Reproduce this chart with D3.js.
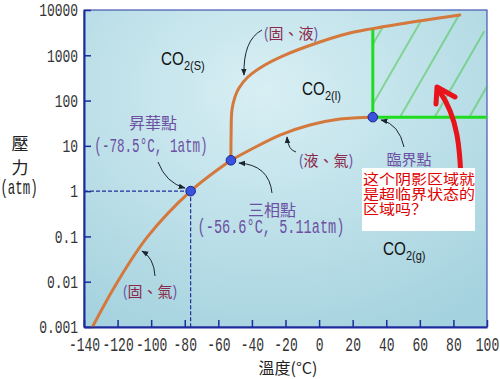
<!DOCTYPE html>
<meta charset="utf-8">
<style>
body { margin: 0; background: #fff; }
svg { display: block; }
.cjk { font-family: "Noto Sans CJK TC", "Noto Sans CJK SC", sans-serif; }
.mono { font-family: "Liberation Mono", "DejaVu Sans Mono", monospace; }
.sans { font-family: "Liberation Sans", Arial, sans-serif; }
</style>
<svg width="500" height="379"></svg>
<script src="https://d3js.org/d3.v7.min.js"></script>
<script>

// temperature (°C) and pressure (atm) ticks
var tempTicks = [-140, -120, -100, -80, -60, -40, -20, 0, 20, 40, 60, 80, 100];
var pressTicks = [0.001, 0.01, 0.1, 1, 10, 100, 1000, 10000];
var pressLabels = ["0.001", "0.01", "0.1", "1", "10", "100", "1000", "10000"];

// phase boundaries: [T, P]
var solidGas = [[-135, 0.001], [-120, 0.01], [-102, 0.1], [-76.5, 1], [-52.5, 4.8]];
var liquidGas = [[-52.5, 4.8], [-41.2, 8.1], [-23.3, 17.3], [-5.5, 28.8], [12.4, 39.2], [32, 43]];
var solidLiquid = [[-52.5, 4.8], [-52.4, 17.3], [-51.9, 62], [-50.1, 120], [-47.7, 189], [-42.4, 331],
                   [-32.3, 610], [-20.4, 1010], [-1.3, 1870], [18.3, 3100], [48.1, 4900], [83.8, 7740]];

// special points
var sublimationPt = [-76.5, 1];
var triplePt = [-52.5, 4.8];
var criticalPt = [32, 43];

var svg = d3.select("svg");

var x = d3.scaleLinear().domain([-140, 100]).range([84, 487]);
var y = d3.scaleLog().domain([0.001, 10000]).range([327, 10]);

var line = d3.line()
    .x(function(d) { return x(d[0]); })
    .y(function(d) { return y(d[1]); })
    .curve(d3.curveCatmullRom.alpha(0.5));

var defs = svg.append("defs");

var bg = defs.append("radialGradient").attr("id", "bg")
    .attr("cx", "45%").attr("cy", "25%").attr("r", "85%");
bg.append("stop").attr("offset", "0%").attr("stop-color", "#d8eff4");
bg.append("stop").attr("offset", "100%").attr("stop-color", "#a4d2de");

var hatch = defs.append("pattern").attr("id", "hatch")
    .attr("patternUnits", "userSpaceOnUse")
    .attr("width", 30).attr("height", 20)
    .attr("patternTransform", "rotate(30)");
hatch.append("line").attr("x1", 15).attr("x2", 15).attr("y1", 0).attr("y2", 20)
    .attr("stroke", "#3cc43c").attr("stroke-width", 1);

defs.append("marker").attr("id", "tip")
    .attr("viewBox", "0 0 10 10").attr("refX", 9).attr("refY", 5)
    .attr("markerWidth", 7).attr("markerHeight", 7)
    .attr("orient", "auto")
  .append("path").attr("d", "M0,1 L10,5 L0,9 Z").attr("fill", "#1a2530");

// plot background + frame
svg.append("rect")
    .attr("x", x(-140)).attr("y", y(10000))
    .attr("width", x(100) - x(-140)).attr("height", y(0.001) - y(10000))
    .attr("fill", "url(#bg)")
    .attr("stroke", "#2636a6").attr("stroke-width", 1);

// supercritical region: above the critical point, right of it, below the melting curve
function logInterp(data, t) {
  for (var i = 1; i < data.length; i++) {
    if (data[i][0] >= t) {
      var a = data[i - 1], b = data[i], f = (t - a[0]) / (b[0] - a[0]);
      return Math.pow(10, Math.log10(a[1]) + f * (Math.log10(b[1]) - Math.log10(a[1])));
    }
  }
  return data[data.length - 1][1];
}
var topAtCrit = logInterp(solidLiquid, criticalPt[0]);
var upper = [[criticalPt[0], topAtCrit]].concat(solidLiquid.filter(function(d) { return d[0] > criticalPt[0]; }));
var last = upper[upper.length - 1];
var regionPath = line(upper) +
    "L" + x(100) + "," + (y(last[1]) + 18) +
    "L" + x(100) + "," + y(criticalPt[1]) +
    "L" + x(criticalPt[0]) + "," + y(criticalPt[1]) + "Z";

svg.append("path").attr("d", regionPath).attr("fill", "url(#hatch)");

svg.append("line")
    .attr("x1", x(criticalPt[0])).attr("x2", x(criticalPt[0]))
    .attr("y1", y(criticalPt[1])).attr("y2", y(topAtCrit))
    .attr("stroke", "#1fdc1f").attr("stroke-width", 3);
svg.append("line")
    .attr("x1", x(criticalPt[0])).attr("x2", x(100))
    .attr("y1", y(criticalPt[1])).attr("y2", y(criticalPt[1]))
    .attr("stroke", "#1fdc1f").attr("stroke-width", 3);

// phase curves
[solidGas, liquidGas, solidLiquid].forEach(function(c) {
  svg.append("path").attr("d", line(c))
      .attr("fill", "none").attr("stroke", "#d4783c")
      .attr("stroke-width", 3).attr("stroke-linecap", "round");
});

// dashed guides to the sublimation point
svg.append("line")
    .attr("x1", x(-140)).attr("x2", x(sublimationPt[0]))
    .attr("y1", y(sublimationPt[1])).attr("y2", y(sublimationPt[1]))
    .attr("stroke", "#22309a").attr("stroke-width", 1.2).attr("stroke-dasharray", "4,2");
svg.append("line")
    .attr("x1", x(sublimationPt[0])).attr("x2", x(sublimationPt[0]))
    .attr("y1", y(sublimationPt[1])).attr("y2", y(0.001))
    .attr("stroke", "#22309a").attr("stroke-width", 1.2).attr("stroke-dasharray", "4,2");

// axes
var yAxis = svg.append("g")
    .attr("transform", "translate(" + x(-140) + ",0)")
    .call(d3.axisLeft(y).tickValues(pressTicks)
      .tickFormat(function(d, i) { return pressLabels[i]; })
      .tickSizeInner(-7).tickSizeOuter(0).tickPadding(6));
yAxis.selectAll("text")
    .attr("class", "mono").style("font-size", "18px")
    .attr("fill", "#333")
    .attr("transform", "scale(0.72,1)")
    .attr("x", -6 / 0.72);

var xAxis = svg.append("g")
    .attr("transform", "translate(0," + y(0.001) + ")")
    .call(d3.axisBottom(x).tickValues(tempTicks)
      .tickFormat(function(d) { return String(d); })
      .tickSizeInner(-7).tickSizeOuter(0).tickPadding(10));
xAxis.selectAll("text")
    .attr("class", "mono").style("font-size", "20px")
    .attr("fill", "#333")
    .attr("transform", "scale(0.65,1)");

[yAxis, xAxis].forEach(function(a) {
  a.select(".domain").attr("stroke", "#1d2b9c").attr("stroke-width", 2);
  a.selectAll(".tick line").attr("stroke", "#1d2b9c").attr("stroke-width", 1.5);
});

// points
[sublimationPt, triplePt, criticalPt].forEach(function(p) {
  svg.append("circle")
      .attr("cx", x(p[0])).attr("cy", y(p[1])).attr("r", 4.8)
      .attr("fill", "#3a52dc").attr("stroke", "#1a2790").attr("stroke-width", 1);
});

// text helpers
function cjk(tx, ty, str, size, color) {
  return svg.append("text").attr("class", "cjk")
      .attr("x", tx).attr("y", ty)
      .attr("text-anchor", "middle").attr("dominant-baseline", "central")
      .style("font-size", size + "px").attr("fill", color).text(str);
}
function mono(tx, ty, str, size, sx, color) {
  svg.append("g").attr("transform", "translate(" + tx + "," + ty + ")")
    .append("text").attr("class", "mono")
      .attr("transform", "scale(" + sx + ",1)")
      .attr("text-anchor", "middle").attr("dominant-baseline", "central")
      .style("font-size", size + "px").attr("fill", color).text(str);
}
function pair(tx, ty, inner) {
  var t = svg.append("text").attr("class", "cjk")
      .attr("x", tx).attr("y", ty)
      .attr("text-anchor", "middle").attr("dominant-baseline", "central")
      .style("font-size", "15px");
  t.append("tspan").attr("fill", "#6c50a2").text("(");
  t.append("tspan").attr("fill", "#8c2a4c").text(inner);
  t.append("tspan").attr("fill", "#6c50a2").text(")");
}
function co2(tx, ty, sub) {
  var t = svg.append("g").attr("transform", "translate(" + tx + "," + ty + ") scale(0.85,1)")
    .append("text").attr("class", "sans").attr("fill", "#111").style("font-size", "18px");
  t.append("tspan").text("CO");
  t.append("tspan").attr("dy", 5).style("font-size", "13px").text(sub);
}

var purple = "#6c50a2";

co2(161, 65, "2(S)");
co2(302, 95, "2(l)");
co2(383, 255, "2(g)");

cjk(153, 122, "昇華點", 16, purple);
mono(151, 147, "(-78.5°C, 1atm)", 20, 0.63, purple);
cjk(272, 209, "三相點", 16, purple);
mono(271, 228, "(-56.6°C, 5.11atm)", 20, 0.68, purple);
cjk(409, 158, "臨界點", 15, purple);

pair(291, 32, "固、液");
pair(326, 159, "液、氣");
pair(150, 290, "固、氣");

cjk(20, 142, "壓", 17, "#222");
cjk(20, 166, "力", 17, "#222");
mono(19, 189, "(atm)", 20, 0.62, "#222");
cjk(288, 367, "溫度(°C)", 16, "#222");

// annotation arrows
var arrows = [
  "M262,30 Q243,40 244,75",
  "M158,162 Q166,183 185,188",
  "M272,193 Q269,165 239,163",
  "M296,152 Q288,150 287,137",
  "M404,147 Q399,124 381,120",
  "M155,276 Q154,258 142,251"
];
arrows.forEach(function(d) {
  svg.append("path").attr("d", d).attr("fill", "none")
      .attr("stroke", "#1a2530").attr("stroke-width", 1)
      .attr("marker-end", "url(#tip)");
});

// red arrow pointing at the hatched region
svg.append("path").attr("d", "M461,180 C460,150 458,118 440,92")
    .attr("fill", "none").attr("stroke", "#e8141c")
    .attr("stroke-width", 5).attr("stroke-linecap", "round");
svg.append("path").attr("d", "M436,104 L437,87 L455,97")
    .attr("fill", "none").attr("stroke", "#e8141c")
    .attr("stroke-width", 5).attr("stroke-linejoin", "round").attr("stroke-linecap", "round");

// question box
svg.append("rect").attr("x", 362).attr("y", 168).attr("width", 113).attr("height", 63)
    .attr("fill", "#fff");
var question = ["这个阴影区域就", "是超临界状态的", "区域吗？"];
svg.append("g").selectAll("text").data(question).enter().append("text")
    .attr("transform", function(d, i) { return "translate(363," + (184 + i * 15) + ") scale(1,0.86)"; })
    .style("font-family", "'Noto Sans CJK SC', sans-serif")
    .style("font-size", "16px").attr("fill", "#e00000")
    .text(function(d) { return d; });

</script>
